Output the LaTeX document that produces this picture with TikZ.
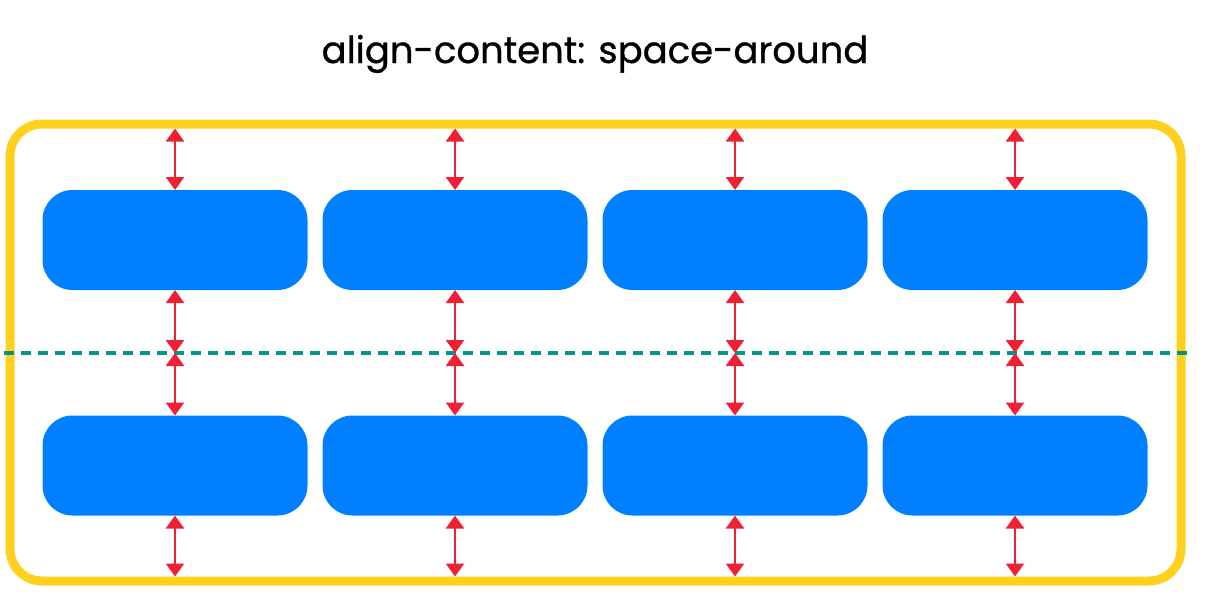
\documentclass[tikz,border=0pt]{standalone}
\usepackage{fontspec}
\newfontfamily\titlefont[FakeBold=0.8]{Poppins}
\usepackage{xcolor}
\usepackage{tikz}
\usetikzlibrary{arrows.meta,positioning,calc}
\definecolor{flexyellow}{RGB}{255,208,30}
\definecolor{flexblue}{RGB}{0,128,255}
\definecolor{flexred}{RGB}{240,32,52}
\definecolor{flexteal}{RGB}{0,150,136}
\begin{document}
\begin{tikzpicture}[
x=1pt,
y=-1pt,
frame/.style={rectangle,draw=flexyellow,line width=9pt,rounded corners=32pt,minimum width=1171pt,minimum height=457pt,outer sep=-4.5pt,inner sep=0pt},
item/.style={rectangle,fill=flexblue,rounded corners=30pt,minimum width=265pt,minimum height=100pt,inner sep=0pt,outer sep=0pt},
gap/.style={{Triangle[length=13pt,width=18pt]}-{Triangle[length=13pt,width=18pt]},draw=flexred,fill=flexred,line width=2.5pt},
guide/.style={draw=flexteal,line width=3.5pt,dash pattern=on 10pt off 7pt},
title/.style={font=\titlefont\fontsize{37}{44}\selectfont,anchor=base,inner sep=0pt}
]
\useasboundingbox (0,0) rectangle (1220,605);
\node[title] (head) at (595,63) {align-content: space-around};
\node[frame] (box) at (595.5,352.5) {};
\node[item] (a1) at (175,240) {};
\node[item] (a2) at (455,240) {};
\node[item] (a3) at (735,240) {};
\node[item] (a4) at (1015,240) {};
\node[item] (b1) at (175,465.5) {};
\node[item] (b2) at (455,465.5) {};
\node[item] (b3) at (735,465.5) {};
\node[item] (b4) at (1015,465.5) {};
\coordinate (midl) at (4,353);
\coordinate (midr) at (1194,353);

\draw[guide] (midl) -- (midr);

\draw[gap] (a1.north |- box.north) -- (a1.north);
\draw[gap] (a2.north |- box.north) -- (a2.north);
\draw[gap] (a3.north |- box.north) -- (a3.north);
\draw[gap] (a4.north |- box.north) -- (a4.north);
\draw[gap] (a1.south) -- (a1.south |- midl);
\draw[gap] (a2.south) -- (a2.south |- midl);
\draw[gap] (a3.south) -- (a3.south |- midl);
\draw[gap] (a4.south) -- (a4.south |- midl);
\draw[gap] (b1.north |- midl) -- (b1.north);
\draw[gap] (b2.north |- midl) -- (b2.north);
\draw[gap] (b3.north |- midl) -- (b3.north);
\draw[gap] (b4.north |- midl) -- (b4.north);
\draw[gap] (b1.south) -- (b1.south |- box.south);
\draw[gap] (b2.south) -- (b2.south |- box.south);
\draw[gap] (b3.south) -- (b3.south |- box.south);
\draw[gap] (b4.south) -- (b4.south |- box.south);
\end{tikzpicture}
\end{document}
